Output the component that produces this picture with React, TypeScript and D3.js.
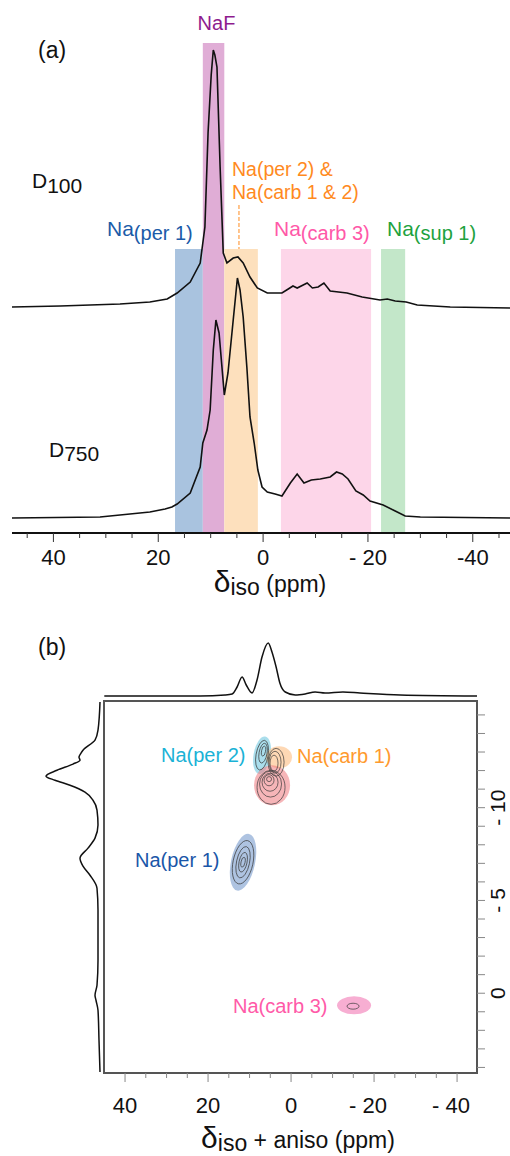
import * as d3 from 'd3';
import React, { useRef, useEffect } from 'react';

// ---- panel (a): 1D spectra, [ppm, intensity] ----
const d100 = [
  [47.9, 1], [38.7, 2], [27.3, 4], [21.6, 6], [18.3, 9], [16.4, 15], [13.9, 26], [12.0, 45],
  [11.1, 81], [10.5, 175], [9.9, 233], [9.5, 258], [9.2, 253], [8.8, 241], [8.2, 141], [7.6, 55],
  [6.9, 45], [5.7, 50], [4.8, 51], [3.8, 45], [2.5, 31], [1.1, 20], [-0.8, 15], [-3.6, 15],
  [-4.8, 19], [-5.7, 22], [-6.5, 20], [-8.4, 25], [-9.4, 20], [-10.5, 21], [-11.6, 25], [-12.8, 17],
  [-16.0, 15], [-18.9, 11], [-22.3, 8], [-23.7, 9], [-25.2, 7], [-27.3, 6], [-29.4, 3], [-35.7, 1],
  [-47.1, 0],
];
const d750 = [
  [47.9, 0], [31.1, 1], [21.6, 6], [18.7, 9], [17.4, 11], [16.4, 14], [13.9, 25], [12.0, 51],
  [11.5, 75], [10.7, 88], [10.1, 108], [9.5, 168], [9.0, 198], [8.4, 185], [7.4, 123], [6.7, 145],
  [5.7, 198], [4.9, 240], [4.4, 228], [3.8, 201], [3.1, 151], [2.5, 101], [1.7, 75], [1.0, 48],
  [0.2, 31], [-0.8, 26], [-2.3, 24], [-3.6, 22], [-5.2, 35], [-6.5, 44], [-7.8, 35], [-9.2, 38],
  [-10.9, 39], [-12.8, 41], [-14.0, 46], [-15.1, 44], [-16.2, 39], [-17.7, 27], [-19.1, 23],
  [-20.4, 17], [-22.9, 13], [-25.2, 7], [-27.1, 2], [-30.0, 1], [-47.1, 0],
];

// highlighted regions, ppm from -> to
const bandNames = ['per1', 'naf', 'per2', 'carb3', 'sup1'];
const bandFrom = [16.8, 11.5, 7.4, -3.4, -22.5];
const bandTo = [11.5, 7.4, 1.0, -20.6, -27.1];

const ticksA = [40, 20, 0, -20, -40];
const tickLabelsA = ['40', '20', '0', '- 20', '-40'];
const minorA = d3.range(45, -46, -5);

// ---- panel (b): 2D MQMAS ----
const ticksB = [40, 20, 0, -20, -40];
const tickLabelsB = ['40', '20', '0', '- 20', '- 40'];
const minorB = d3.range(40, -41, -5);
const ticksF1 = [-10, -5, 0];
const tickLabelsF1 = ['- 10', '- 5', '0'];
const minorF1 = d3.range(-15, 5, 1);

// projections [ppm, intensity]
const projTop = [
  [45, 0], [21.9, 0], [15.9, 1], [14.2, 2], [13.0, 9], [11.8, 19], [10.8, 11], [9.4, 3],
  [8.2, 16], [7.0, 39], [5.5, 53], [4.6, 44], [3.6, 29], [2.7, 13], [1.4, 4], [-1.0, 1],
  [-3.4, 2], [-5.8, 4], [-8.2, 3], [-12.5, 4], [-16.6, 3], [-26.3, 1], [-44.8, 0],
];
const projLeft = [
  [-15.7, 0], [-14.18, 2], [-13.64, 5], [-13.1, 17], [-12.94, 19], [-12.72, 21], [-12.56, 20],
  [-12.35, 27], [-12.02, 43], [-11.7, 54], [-11.48, 45], [-11.21, 30], [-10.84, 15], [-10.4, 7],
  [-9.87, 3], [-9.06, 2], [-8.36, 5], [-7.82, 12], [-7.28, 20], [-6.85, 17], [-6.36, 10],
  [-5.66, 3], [-4.47, 2], [-1.78, 2], [-0.43, 3], [0.11, 5], [0.38, 4], [0.92, 2], [2.53, 1],
  [4.25, 0],
];

// site shading: [ppm, F1, rx(ppm), ry(F1), rotation]
const siteNames = ['per2', 'carb1', 'red', 'per1', 'carb3'];
const siteShade = [
  [6.99, -12.83, 2.05, 1.02, 10],
  [2.89, -12.72, 3.13, 0.59, 0],
  [4.58, -11.21, 4.34, 1.08, 0],
  [11.57, -7.06, 2.9, 1.56, 12],
  [-15.18, 0.65, 4.1, 0.485, 0],
];
// contour rings: [ppm, F1, rx, ry, rotation]
const contours = [
  [6.99, -12.83, 1.45, 0.81, 10], [6.75, -12.94, 0.96, 0.54, 10], [6.63, -13.05, 0.48, 0.27, 10],
  [3.61, -12.45, 1.93, 0.75, 0], [3.86, -12.45, 1.45, 0.59, 0], [4.1, -12.4, 0.96, 0.43, 0],
  [5.3, -11.54, 0.6, 0.135, 0], [5.3, -11.48, 1.2, 0.3, 0], [5.06, -11.37, 1.93, 0.485, 0],
  [4.94, -11.27, 2.65, 0.7, 0], [4.82, -11.1, 3.37, 0.92, 0],
  [11.57, -7.06, 2.4, 1.19, 12], [11.57, -7.06, 1.57, 0.86, 12], [11.57, -7.06, 0.96, 0.54, 12],
  [11.57, -7.06, 0.48, 0.27, 12],
  [-14.94, 0.7, 1.45, 0.16, 0],
];

const bandColor = { per1: '#a9c3df', naf: '#e0add6', per2: '#fde0bd', carb3: '#fdd6e9', sup1: '#c3e7c9' };
const shadeColor = {
  per2: 'rgba(100,195,220,0.55)', carb1: 'rgba(253,190,130,0.6)', red: 'rgba(238,120,125,0.55)',
  per1: 'rgba(120,155,205,0.6)', carb3: 'rgba(242,120,180,0.6)',
};
const FONT = '"Liberation Sans", Arial, sans-serif';

const App = () => {
  const ref = useRef(null);

  useEffect(() => {
    const svg = d3.select(ref.current);
    svg.selectAll('*').remove();
    svg.attr('font-family', FONT);

    // ================= panel (a) =================
    const x = d3.scaleLinear().domain([47.9, -47.1]).range([12, 510]);
    const yTop = d3.scaleLinear().domain([0, 258]).range([308, 50]);
    const yBot = d3.scaleLinear().domain([0, 258]).range([518, 260]);
    const axisY = 533;

    // bands
    bandNames.forEach((n, i) => {
      const top = n === 'naf' ? 43 : 249;
      svg.append('rect')
        .attr('x', x(bandFrom[i]))
        .attr('width', x(bandTo[i]) - x(bandFrom[i]))
        .attr('y', top)
        .attr('height', axisY - top)
        .attr('fill', bandColor[n]);
    });

    const line = d3.line().x((d) => x(d[0]));
    svg.append('path').datum(d100)
      .attr('fill', 'none').attr('stroke', '#111').attr('stroke-width', 1.6)
      .attr('d', line.y((d) => yTop(d[1])));
    svg.append('path').datum(d750)
      .attr('fill', 'none').attr('stroke', '#111').attr('stroke-width', 1.6)
      .attr('d', line.y((d) => yBot(d[1])));

    // axis
    svg.append('line').attr('x1', 12).attr('x2', 510).attr('y1', axisY).attr('y2', axisY)
      .attr('stroke', '#111').attr('stroke-width', 1.8);
    minorA.forEach((t) => {
      const major = ticksA.includes(t);
      svg.append('line').attr('x1', x(t)).attr('x2', x(t))
        .attr('y1', axisY).attr('y2', axisY + (major ? 9 : 5))
        .attr('stroke', '#333').attr('stroke-width', 1);
    });
    ticksA.forEach((t, i) => {
      svg.append('text').attr('x', x(t)).attr('y', 565).attr('text-anchor', 'middle')
        .attr('font-size', 22).attr('fill', '#111').text(tickLabelsA[i]);
    });
    const ta = svg.append('text').attr('x', 270).attr('y', 592).attr('text-anchor', 'middle').attr('fill', '#111');
    ta.append('tspan').attr('font-size', 30).text('δ');
    ta.append('tspan').attr('font-size', 23).attr('dy', 3).text('iso');
    ta.append('tspan').attr('font-size', 23).attr('dy', -3).text(' (ppm)');

    // labels
    svg.append('text').attr('x', 38).attr('y', 58).attr('font-size', 23).attr('fill', '#111').text('(a)');
    svg.append('text').attr('x', 216.5).attr('y', 30).attr('text-anchor', 'middle')
      .attr('font-size', 20).attr('fill', '#8e1b8e').text('NaF');
    const dl1 = svg.append('text').attr('x', 32).attr('y', 188).attr('font-size', 21).attr('fill', '#111');
    dl1.append('tspan').text('D');
    dl1.append('tspan').attr('dy', 5).text('100');
    const dl2 = svg.append('text').attr('x', 49).attr('y', 457).attr('font-size', 21).attr('fill', '#111');
    dl2.append('tspan').text('D');
    dl2.append('tspan').attr('dy', 4).text('750');

    svg.append('text').attr('x', 232).attr('y', 176).attr('font-size', 19.5).attr('fill', '#ff8a1e').text('Na(per 2) &');
    svg.append('text').attr('x', 232).attr('y', 199).attr('font-size', 19.5).attr('fill', '#ff8a1e').text('Na(carb 1 & 2)');
    svg.append('line').attr('x1', x(4.6)).attr('x2', x(4.6)).attr('y1', 205).attr('y2', 249)
      .attr('stroke', '#ff8a1e').attr('stroke-width', 1).attr('stroke-dasharray', '4,2');

    const subLabel = (lx, col, sub) => {
      const t = svg.append('text').attr('x', lx).attr('y', 236).attr('fill', col);
      t.append('tspan').attr('font-size', 21).text('Na');
      t.append('tspan').attr('font-size', 20).attr('dy', 4).text(sub);
    };
    subLabel(107, '#1b5ba8', '(per 1)');
    subLabel(274, '#ff58a8', '(carb 3)');
    subLabel(387, '#1ea23e', '(sup 1)');

    // ================= panel (b) =================
    const xb = d3.scaleLinear().domain([45.07, -44.8]).range([104, 477]);
    const yb = d3.scaleLinear().domain([-15.75, 4.3]).range([701, 1073]);
    const yProj = d3.scaleLinear().domain([0, 53]).range([696, 643]);
    const xProj = d3.scaleLinear().domain([0, 54]).range([100, 46]);

    const ell = (d, fill, stroke) => {
      const cx = xb(d[0]);
      const cy = yb(d[1]);
      svg.append('ellipse')
        .attr('cx', cx).attr('cy', cy)
        .attr('rx', Math.abs(xb(d[0] - d[2]) - cx))
        .attr('ry', Math.abs(yb(d[1] + d[3]) - cy))
        .attr('transform', `rotate(${d[4]},${cx},${cy})`)
        .attr('fill', fill)
        .attr('stroke', stroke)
        .attr('stroke-width', stroke === 'none' ? 0 : 0.7);
    };
    siteShade.forEach((d, i) => ell(d, shadeColor[siteNames[i]], 'none'));
    contours.forEach((d) => ell(d, 'none', '#3a3a3a'));

    // frame
    svg.append('rect').attr('x', 104).attr('y', 701).attr('width', 373).attr('height', 372)
      .attr('fill', 'none').attr('stroke', '#555').attr('stroke-width', 2);

    // bottom ticks
    minorB.forEach((t) => {
      const major = ticksB.includes(t);
      svg.append('line').attr('x1', xb(t)).attr('x2', xb(t))
        .attr('y1', 1073).attr('y2', 1073 + (major ? 9 : 5))
        .attr('stroke', '#888').attr('stroke-width', 1);
    });
    ticksB.forEach((t, i) => {
      svg.append('text').attr('x', xb(t) - (t < 0 ? 6 : 0)).attr('y', 1113).attr('text-anchor', 'middle')
        .attr('font-size', 22).attr('fill', '#111').text(tickLabelsB[i]);
    });
    // right ticks
    minorF1.forEach((t) => {
      svg.append('line').attr('x1', 477).attr('x2', 485).attr('y1', yb(t)).attr('y2', yb(t))
        .attr('stroke', '#888').attr('stroke-width', 1);
    });
    ticksF1.forEach((t, i) => {
      svg.append('text').attr('transform', `translate(505,${yb(t)}) rotate(-90)`)
        .attr('text-anchor', 'middle').attr('font-size', 21).attr('fill', '#111').text(tickLabelsF1[i]);
    });

    // projections
    svg.append('path').datum(projTop)
      .attr('fill', 'none').attr('stroke', '#111').attr('stroke-width', 1.5)
      .attr('d', d3.line().x((d) => xb(d[0])).y((d) => yProj(d[1])).curve(d3.curveMonotoneX));
    svg.append('path').datum(projLeft)
      .attr('fill', 'none').attr('stroke', '#111').attr('stroke-width', 1.5)
      .attr('d', d3.line().x((d) => xProj(d[1])).y((d) => yb(d[0])).curve(d3.curveMonotoneY));

    const tb = svg.append('text').attr('x', 298).attr('y', 1148).attr('text-anchor', 'middle').attr('fill', '#111');
    tb.append('tspan').attr('font-size', 30).text('δ');
    tb.append('tspan').attr('font-size', 23).attr('dy', 3).text('iso');
    tb.append('tspan').attr('font-size', 23).attr('dy', -3).text(' + aniso (ppm)');

    svg.append('text').attr('x', 38).attr('y', 655).attr('font-size', 23).attr('fill', '#111').text('(b)');
    svg.append('text').attr('x', 161).attr('y', 762).attr('font-size', 20).attr('fill', '#1ab2d6').text('Na(per 2)');
    svg.append('text').attr('x', 297).attr('y', 763).attr('font-size', 20).attr('fill', '#ff9a2e').text('Na(carb 1)');
    svg.append('text').attr('x', 135).attr('y', 867).attr('font-size', 20).attr('fill', '#1a56a8').text('Na(per 1)');
    svg.append('text').attr('x', 233).attr('y', 1013).attr('font-size', 20).attr('fill', '#ff5aa8').text('Na(carb 3)');
  }, []);

  return (
    <svg ref={ref} width={510} height={1156} style={{ position: 'absolute', left: 0, top: 0, background: '#fff' }}></svg>
  );
};

export default App;
